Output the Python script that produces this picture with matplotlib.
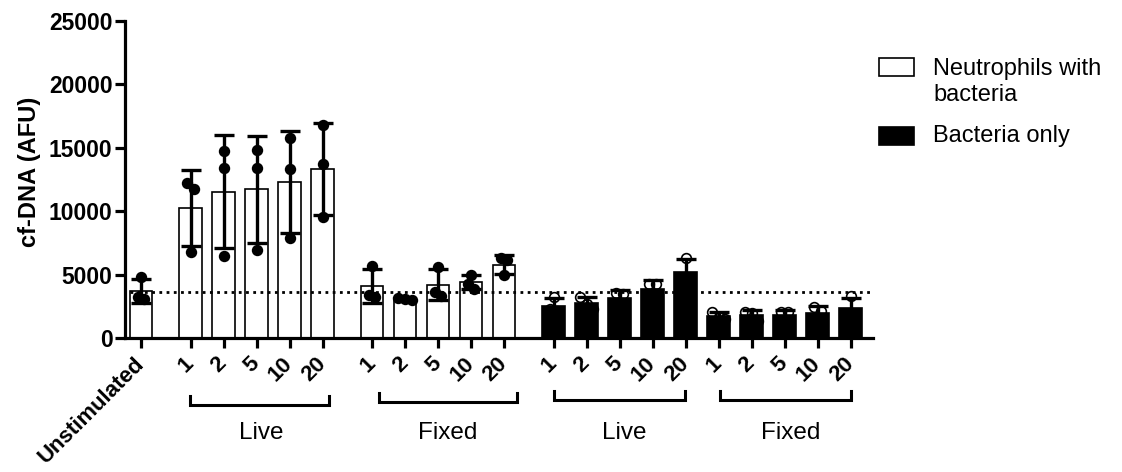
import numpy as np
import matplotlib
matplotlib.use("Agg")
import matplotlib.pyplot as plt
from matplotlib.patches import Rectangle
from matplotlib.lines import Line2D

plt.rcParams['font.family'] = ['Liberation Sans', 'DejaVu Sans']

# ---------------- data ----------------
doses = ['1', '2', '5', '10', '20']
group_names = ['Live', 'Fixed', 'Live', 'Fixed']
unstim_pts = [4850, 3250, 3100]
neut_live_pts = [[12200, 11750, 6800], [14750, 13400, 6500], [14800, 13400, 6950],
                 [15750, 13300, 7900], [16800, 13700, 9580]]
neut_fixed_pts = [[5700, 3400, 3250], [3150, 3100, 3000], [5600, 3650, 3350],
                  [5000, 4300, 3900], [6300, 6150, 4950]]
bact_live_pts = [[3250, 2300, 2150], [3250, 2700, 2300], [3600, 3500, 2500],
                 [4300, 4250, 3100], [6350, 4750, 4500]]
bact_fixed_pts = [[2100, 1700, 1550], [2100, 2000, 1400], [2100, 2050, 1350],
                  [2450, 2150, 1300], [3300, 1950, 1850]]
baseline_level = 3650
legend_labels = ['Neutrophils with\nbacteria', 'Bacteria only']
y_label = 'cf-DNA (AFU)'

# ---------------- layout ----------------
W, H = 1122, 472
fig = plt.figure(figsize=(W / 100, H / 100), dpi=100)
ax_l, ax_r, ax_t, ax_b = 125, 873, 20.7, 338.3
ax = fig.add_axes([ax_l / W, 1 - ax_b / H, (ax_r - ax_l) / W, (ax_b - ax_t) / H])

unit = 33.0
x0 = 141.0
pos_unstim = 0.0
pos_nl = [1.5 + i for i in range(5)]
pos_nf = [7.0 + i for i in range(5)]
pos_bl = [12.5 + i for i in range(5)]
pos_bf = [17.5 + i for i in range(5)]

bar_w = 0.67
lw_axis = 2.3


def spread(vals, thr=700, step=0.2):
    order = np.argsort(vals)[::-1]
    offs = np.zeros(len(vals))
    clusters = []
    for idx in order:
        if clusters and abs(vals[clusters[-1][-1]] - vals[idx]) < thr:
            clusters[-1].append(idx)
        else:
            clusters.append([idx])
    for c in clusters:
        n = len(c)
        for k, idx in enumerate(c):
            offs[idx] = (k - (n - 1) / 2) * step
    return offs


def draw(pos, pts, filled):
    pts = np.asarray(pts, dtype=float)
    m = pts.mean()
    sd = pts.std(ddof=1)
    ax.bar(pos, m, width=bar_w, color='white' if filled else 'black',
           edgecolor='black', linewidth=1.2, zorder=2)
    offs = spread(pts)
    ax.plot(pos + offs, pts, 'o', ms=7,
            mfc='black' if filled else 'none', mec='black', mew=1.2, zorder=4)
    ax.errorbar(pos, m, yerr=sd, fmt='none', ecolor='black', elinewidth=2.4,
                capsize=7.5, capthick=2.4, zorder=5)


draw(pos_unstim, unstim_pts, True)
for p, v in zip(pos_nl, neut_live_pts):
    draw(p, v, True)
for p, v in zip(pos_nf, neut_fixed_pts):
    draw(p, v, True)
for p, v in zip(pos_bl, bact_live_pts):
    draw(p, v, False)
for p, v in zip(pos_bf, bact_fixed_pts):
    draw(p, v, False)

xl = ((ax_l - x0) / unit, (ax_r - x0) / unit)
ax.set_xlim(*xl)
ax.set_ylim(0, 25000)

# dotted reference line
ax.plot([pos_unstim - bar_w / 2, xl[1]], [baseline_level, baseline_level],
        color='black', lw=2.0, ls=(0, (1, 1.6)), zorder=3)

# spines & ticks
for s in ['top', 'right']:
    ax.spines[s].set_visible(False)
for s in ['left', 'bottom']:
    ax.spines[s].set_linewidth(lw_axis)
ax.set_yticks([0, 5000, 10000, 15000, 20000, 25000])
ax.tick_params(axis='y', length=7, width=lw_axis, pad=2, labelsize=16.5)
for t in ax.get_yticklabels():
    t.set_fontweight('bold')

xt = [pos_unstim] + pos_nl + pos_nf + pos_bl + pos_bf
xtl = ['Unstimulated'] + doses * 4
ax.set_xticks(xt)
ax.set_xticklabels(xtl, rotation=45, ha='right', va='center',
                   rotation_mode='anchor', fontsize=16, fontweight='bold')
ax.tick_params(axis='x', length=7, width=lw_axis, pad=9)

fig.text(30 / W, 1 - 172 / H, y_label, rotation=90, ha='center', va='center',
         fontsize=17, fontweight='bold')

# group brackets and labels
brackets = [(190, 329, 405), (379, 517, 402), (554, 685, 400), (720, 851, 400)]
label_x = [261, 448, 624, 791]
for (a, b, yb), name, lx in zip(brackets, group_names, label_x):
    yb_f = 1 - yb / H
    yt_f = 1 - (yb - 9) / H
    fig.add_artist(Line2D([a / W, a / W, b / W, b / W], [yt_f, yb_f, yb_f, yt_f],
                          color='black', lw=2.2, solid_joinstyle='miter'))
    fig.text(lx / W, 1 - 433 / H, name, ha='center', va='center', fontsize=17.5)

# legend (manual)
fig.add_artist(Rectangle((879 / W, 1 - 76 / H), 35 / W, 18 / H, transform=fig.transFigure,
                         facecolor='white', edgecolor='black', lw=1.2))
fig.add_artist(Rectangle((879 / W, 1 - 145 / H), 35 / W, 18 / H, transform=fig.transFigure,
                         facecolor='black', edgecolor='black', lw=1.2))
fig.text(933 / W, 1 - 82 / H, legend_labels[0], ha='left', va='center', fontsize=17,
         linespacing=1.2)
fig.text(933 / W, 1 - 136 / H, legend_labels[1], ha='left', va='center', fontsize=17)

fig.savefig('out.png', dpi=100)
